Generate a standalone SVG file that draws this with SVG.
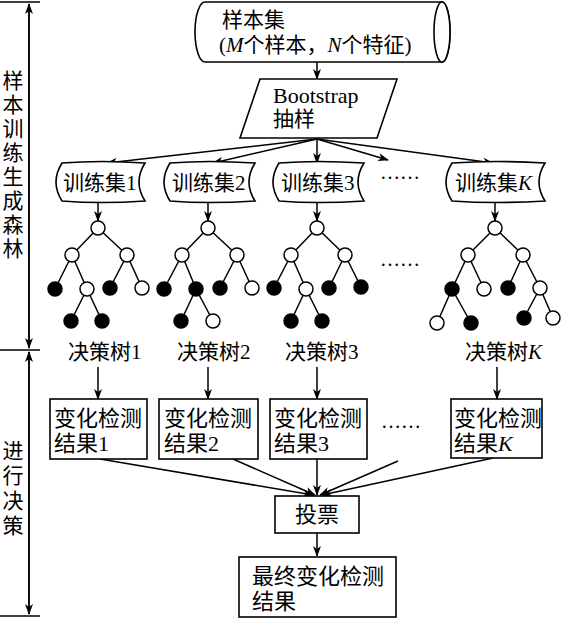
<svg xmlns="http://www.w3.org/2000/svg" width="563" height="619" viewBox="0 0 563 619">
<style>
text{font-family:"Liberation Serif","Noto Sans CJK SC",serif;font-size:21px;fill:#000}
.b{font-size:22px}
.bs{font-size:22px}
.i{font-style:italic}
.shape{fill:#fff;stroke:#000;stroke-width:1.6}
.ln{stroke:#000;stroke-width:1.5;fill:none}
.w{fill:#fff;stroke:#000;stroke-width:1.5}
.k{fill:#000;stroke:#000;stroke-width:1.5}
.dots{font-family:"Liberation Serif",serif;font-size:20px}
</style>
<defs>
<marker id="ah" markerWidth="11" markerHeight="8" refX="10" refY="4" orient="auto" markerUnits="userSpaceOnUse">
<path d="M0,0 L11,4 L0,8 L3,4 z" fill="#000"/>
</marker>
</defs>

<g id="axis">
<line class="ln" x1="0" y1="2" x2="40" y2="2"/>
<line class="ln" x1="0" y1="350" x2="40" y2="350"/>
<line class="ln" x1="0" y1="616" x2="40" y2="616"/>
<line class="ln" x1="29" y1="348" x2="29" y2="4" marker-end="url(#ah)"/>
<line class="ln" x1="29" y1="4" x2="29" y2="348" marker-end="url(#ah)"/>
<line class="ln" x1="29" y1="352" x2="29" y2="614" marker-end="url(#ah)"/>
<line class="ln" x1="29" y1="614" x2="29" y2="352" marker-end="url(#ah)"/>
<g id="label-train" text-anchor="middle">
<text x="13" y="88">样</text><text x="13" y="112">本</text><text x="13" y="136">训</text><text x="13" y="160">练</text><text x="13" y="184">生</text><text x="13" y="208">成</text><text x="13" y="232">森</text><text x="13" y="256">林</text>
</g>
<g id="label-decide" text-anchor="middle">
<text x="13" y="458">进</text><text x="13" y="483">行</text><text x="13" y="508">决</text><text x="13" y="533">策</text>
</g>
</g>

<g id="connectors">
<line class="ln" x1="317" y1="62" x2="317" y2="79" marker-end="url(#ah)"/>
<line class="ln" x1="317" y1="139" x2="107" y2="163" marker-end="url(#ah)"/>
<line class="ln" x1="317" y1="139" x2="213" y2="163" marker-end="url(#ah)"/>
<line class="ln" x1="317" y1="139" x2="317" y2="163" marker-end="url(#ah)"/>
<line class="ln" x1="317" y1="139" x2="388" y2="160" marker-end="url(#ah)"/>
<line class="ln" x1="317" y1="139" x2="493" y2="163" marker-end="url(#ah)"/>
<line class="ln" x1="98" y1="201" x2="98" y2="221" marker-end="url(#ah)"/>
<line class="ln" x1="208" y1="201" x2="208" y2="221" marker-end="url(#ah)"/>
<line class="ln" x1="317" y1="201" x2="317" y2="221" marker-end="url(#ah)"/>
<line class="ln" x1="495" y1="201" x2="495" y2="221" marker-end="url(#ah)"/>
<line class="ln" x1="98" y1="367" x2="98" y2="399" marker-end="url(#ah)"/>
<line class="ln" x1="208" y1="367" x2="208" y2="399" marker-end="url(#ah)"/>
<line class="ln" x1="317" y1="367" x2="317" y2="399" marker-end="url(#ah)"/>
<line class="ln" x1="497" y1="367" x2="497" y2="399" marker-end="url(#ah)"/>
<line class="ln" x1="100" y1="459" x2="313" y2="495" marker-end="url(#ah)"/>
<line class="ln" x1="233" y1="459" x2="315" y2="495" marker-end="url(#ah)"/>
<line class="ln" x1="317" y1="459" x2="317" y2="495" marker-end="url(#ah)"/>
<line class="ln" x1="398" y1="461" x2="320" y2="495" marker-end="url(#ah)"/>
<line class="ln" x1="493" y1="458" x2="322" y2="495" marker-end="url(#ah)"/>
<line class="ln" x1="317" y1="533" x2="317" y2="556" marker-end="url(#ah)"/>
</g>

<g id="sample-set">
<path class="shape" d="M205,2 L442,2 A8,30 0 0 1 442,62 L205,62 A10,30 0 0 1 205,2 Z"/>
<ellipse class="shape" cx="442" cy="32" rx="8" ry="30"/>
<text x="222" y="27">样本集</text>
<text x="219" y="52">(<tspan class="i">M</tspan>个样本，<tspan class="i">N</tspan>个特征)</text>
</g>

<g id="bootstrap">
<path class="shape" d="M260,79 L397,79 L377,138 L240,138 Z"/>
<text class="bs" x="273" y="103">Bootstrap</text>
<text x="273" y="126">抽样</text>
</g>

<g id="train1">
<path class="shape" d="M62,163 Q100,160 145,163 Q133,182 145,201 Q100,204 62,201 Q50,182 62,163 Z"/>
<text x="63" y="190">训练集1</text>
</g>
<g id="train2">
<path class="shape" d="M170,163 Q208,160 255,163 Q243,182 255,201 Q208,204 170,201 Q158,182 170,163 Z"/>
<text x="172" y="190">训练集2</text>
</g>
<g id="train3">
<path class="shape" d="M279,163 Q317,160 364,163 Q352,182 364,201 Q317,204 279,201 Q267,182 279,163 Z"/>
<text x="281" y="190">训练集3</text>
</g>
<text class="dots" x="380" y="179">……</text>
<g id="trainK">
<path class="shape" d="M452,163 Q495,160 545,163 Q533,182 545,201 Q495,204 452,201 Q440,182 452,163 Z"/>
<text x="455" y="190">训练集<tspan class="i">K</tspan></text>
</g>

<g id="tree1">
<path class="ln" d="M98,228 L72,255 M98,228 L127,255 M72,255 L55,289 M72,255 L87,289 M127,255 L110,288 M127,255 L142,288 M87,289 L71,321 M87,289 L102,321"/>
<circle class="w" cx="98" cy="228" r="7"/><circle class="w" cx="72" cy="255" r="7"/><circle class="w" cx="127" cy="255" r="7"/>
<circle class="k" cx="55" cy="289" r="7"/><circle class="w" cx="87" cy="289" r="7"/><circle class="k" cx="110" cy="288" r="7"/><circle class="w" cx="142" cy="288" r="7"/>
<circle class="k" cx="71" cy="321" r="7"/><circle class="k" cx="102" cy="321" r="7"/>
</g>
<g id="tree2">
<path class="ln" d="M208,228 L182,255 M208,228 L237,255 M182,255 L164,289 M182,255 L196,289 M237,255 L220,288 M237,255 L252,288 M196,289 L181,321 M196,289 L213,321"/>
<circle class="w" cx="208" cy="228" r="7"/><circle class="w" cx="182" cy="255" r="7"/><circle class="w" cx="237" cy="255" r="7"/>
<circle class="k" cx="164" cy="289" r="7"/><circle class="k" cx="196" cy="289" r="7"/><circle class="k" cx="220" cy="288" r="7"/><circle class="w" cx="252" cy="288" r="7"/>
<circle class="k" cx="181" cy="321" r="7"/><circle class="w" cx="213" cy="321" r="7"/>
</g>
<g id="tree3">
<path class="ln" d="M317,228 L291,255 M317,228 L345,255 M291,255 L274,288 M291,255 L306,289 M345,255 L329,288 M345,255 L361,287 M306,289 L291,321 M306,289 L322,321"/>
<circle class="w" cx="317" cy="228" r="7"/><circle class="w" cx="291" cy="255" r="7"/><circle class="w" cx="345" cy="255" r="7"/>
<circle class="k" cx="274" cy="288" r="7"/><circle class="w" cx="306" cy="289" r="7"/><circle class="k" cx="329" cy="288" r="7"/><circle class="k" cx="361" cy="287" r="7"/>
<circle class="k" cx="291" cy="321" r="7"/><circle class="k" cx="322" cy="321" r="7"/>
</g>
<text class="dots" x="380" y="266">……</text>
<g id="treeK">
<path class="ln" d="M495,228 L468,255 M495,228 L523,255 M468,255 L452,289 M468,255 L484,289 M523,255 L508,288 M523,255 L540,288 M452,289 L437,323 M452,289 L471,323 M540,288 L524,318 M540,288 L553,318"/>
<circle class="w" cx="495" cy="228" r="7"/><circle class="w" cx="468" cy="255" r="7"/><circle class="w" cx="523" cy="255" r="7"/>
<circle class="k" cx="452" cy="289" r="7"/><circle class="w" cx="484" cy="289" r="7"/><circle class="k" cx="508" cy="288" r="7"/><circle class="w" cx="540" cy="288" r="7"/>
<circle class="w" cx="437" cy="323" r="7"/><circle class="k" cx="471" cy="323" r="7"/><circle class="k" cx="524" cy="318" r="7"/><circle class="w" cx="553" cy="318" r="7"/>
</g>

<g id="dt-labels">
<text x="68" y="359">决策树1</text>
<text x="177" y="359">决策树2</text>
<text x="285" y="359">决策树3</text>
<text x="465" y="359">决策树<tspan class="i">K</tspan></text>
</g>

<g id="result1">
<rect class="shape" x="50" y="399" width="97" height="60"/>
<text class="b" x="54" y="426">变化检测</text>
<text class="b" x="54" y="451">结果1</text>
</g>
<g id="result2">
<rect class="shape" x="159" y="399" width="99" height="60"/>
<text class="b" x="164" y="426">变化检测</text>
<text class="b" x="164" y="451">结果2</text>
</g>
<g id="result3">
<rect class="shape" x="270" y="399" width="97" height="60"/>
<text class="b" x="274" y="426">变化检测</text>
<text class="b" x="274" y="451">结果3</text>
</g>
<text class="dots" x="381" y="428">……</text>
<g id="resultK">
<rect class="shape" x="451" y="399" width="91" height="59"/>
<text class="b" x="454" y="426">变化检测</text>
<text class="b" x="454" y="451">结果<tspan class="i">K</tspan></text>
</g>

<g id="vote">
<rect class="shape" x="275" y="496" width="84" height="37"/>
<text class="b" x="295" y="522">投票</text>
</g>

<g id="final">
<rect class="shape" x="239" y="557" width="157" height="60"/>
<text class="b" x="252" y="584">最终变化检测</text>
<text class="b" x="252" y="609">结果</text>
</g>
</svg>
